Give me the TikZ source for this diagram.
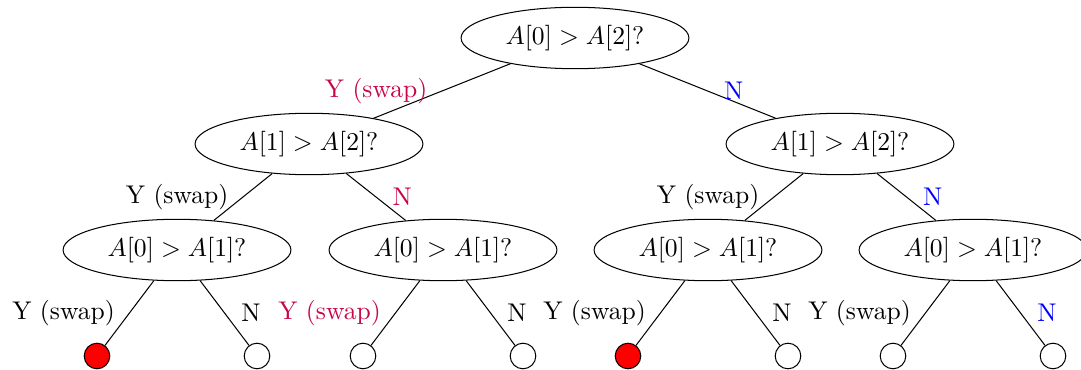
\documentclass[tikz,border=0pt]{standalone}
\usetikzlibrary{shapes.geometric}
\definecolor{ycol}{rgb}{0.78,0.02,0.28}
\begin{document}
\begin{tikzpicture}[x=0.390625pt,y=-0.390625pt,
  q/.style={ellipse,draw,minimum width=89pt,minimum height=24pt,inner sep=0pt},
  leaf/.style={circle,draw,minimum size=10pt,inner sep=0pt},
  hit/.style={leaf,fill=red},
  yl/.style={midway,left=2.2pt},
  nl/.style={midway,right=3pt}]
\useasboundingbox (0,0) rectangle (1081,370);
% internal nodes
\node[q] (r)  at (575,38)  {$A[0] > A[2]?$};
\node[q] (l)  at (309,144) {$A[1] > A[2]?$};
\node[q] (rr) at (840,144) {$A[1] > A[2]?$};
\node[q] (ll) at (177,250) {$A[0] > A[1]?$};
\node[q] (lr) at (443,250) {$A[0] > A[1]?$};
\node[q] (rl) at (708,250) {$A[0] > A[1]?$};
\node[q] (r4) at (973,250) {$A[0] > A[1]?$};
% leaves
\node[hit]  (a1) at (97,356)   {};
\node[leaf] (a2) at (257,356)  {};
\node[leaf] (a3) at (363,356)  {};
\node[leaf] (a4) at (523,356)  {};
\node[hit]  (a5) at (628,356)  {};
\node[leaf] (a6) at (788,356)  {};
\node[leaf] (a7) at (893,356)  {};
\node[leaf] (a8) at (1053,356) {};
% edges
\draw (r) -- node[yl,text=ycol]{Y (swap)} (l);
\draw (r) -- node[nl,text=blue]{N} (rr);
\draw (l) -- node[yl]{Y (swap)} (ll);
\draw (l) -- node[nl,text=ycol]{N} (lr);
\draw (rr) -- node[yl]{Y (swap)} (rl);
\draw (rr) -- node[nl,text=blue]{N} (r4);
\draw (ll) -- node[yl]{Y (swap)} (a1);
\draw (ll) -- node[nl]{N} (a2);
\draw (lr) -- node[yl,text=ycol]{Y (swap)} (a3);
\draw (lr) -- node[nl]{N} (a4);
\draw (rl) -- node[yl]{Y (swap)} (a5);
\draw (rl) -- node[nl]{N} (a6);
\draw (r4) -- node[yl]{Y (swap)} (a7);
\draw (r4) -- node[nl,text=blue]{N} (a8);
\end{tikzpicture}
\end{document}
